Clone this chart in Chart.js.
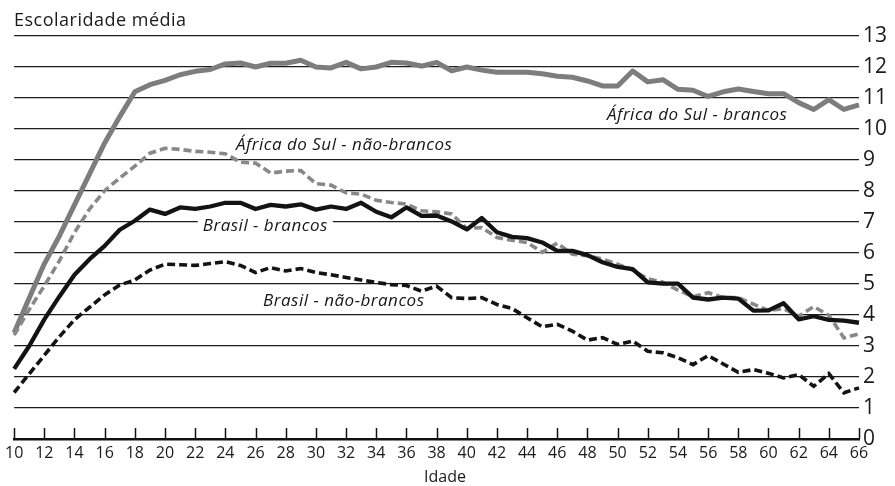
<!DOCTYPE html>
<html><head><meta charset="utf-8">
<script src="https://cdn.jsdelivr.net/npm/chart.js@4/dist/chart.umd.min.js"></script>
<style>html,body{margin:0;padding:0;background:#fff}#wrap{width:895px;height:486px;position:relative}</style>
</head><body><div id="wrap"><canvas id="c"></canvas></div>
<script>
const ages = [10,11,12,13,14,15,16,17,18,19,20,21,22,23,24,25,26,27,28,29,30,31,32,33,34,35,36,37,38,39,40,41,42,43,44,45,46,47,48,49,50,51,52,53,54,55,56,57,58,59,60,61,62,63,64,65,66];
const africaBrancos = [3.43,4.55,5.65,6.55,7.55,8.55,9.55,10.4,11.2,11.43,11.57,11.75,11.86,11.92,12.1,12.13,12.0,12.12,12.12,12.22,12.0,11.97,12.15,11.94,12.0,12.15,12.13,12.03,12.15,11.88,12.0,11.9,11.83,11.83,11.83,11.78,11.7,11.67,11.55,11.39,11.39,11.87,11.52,11.59,11.28,11.25,11.05,11.2,11.29,11.21,11.14,11.14,10.85,10.63,10.95,10.63,10.78];
const africaNaoBrancos = [3.35,4.18,4.94,5.75,6.66,7.42,8.01,8.42,8.8,9.22,9.38,9.34,9.28,9.25,9.2,8.93,8.9,8.58,8.64,8.66,8.24,8.19,7.94,7.9,7.7,7.63,7.58,7.36,7.33,7.26,6.79,6.82,6.5,6.41,6.34,6.02,6.32,5.96,5.91,5.8,5.64,5.45,5.17,5.06,4.8,4.59,4.72,4.56,4.56,4.35,4.15,4.2,3.96,4.27,3.99,3.26,3.39];
const brasilBrancos = [2.26,3.0,3.86,4.6,5.3,5.8,6.23,6.75,7.04,7.4,7.26,7.47,7.42,7.5,7.62,7.62,7.42,7.55,7.5,7.57,7.4,7.5,7.42,7.62,7.33,7.15,7.47,7.2,7.21,7.02,6.76,7.13,6.67,6.52,6.48,6.34,6.07,6.07,5.93,5.7,5.55,5.48,5.05,5.01,5.01,4.56,4.5,4.56,4.53,4.14,4.15,4.38,3.86,3.96,3.84,3.82,3.75];
const brasilNaoBrancos = [1.5,2.1,2.7,3.3,3.85,4.25,4.65,4.97,5.13,5.45,5.64,5.62,5.6,5.66,5.72,5.6,5.37,5.53,5.42,5.5,5.37,5.3,5.21,5.13,5.05,4.98,4.95,4.77,4.93,4.56,4.53,4.56,4.34,4.21,3.91,3.62,3.7,3.48,3.19,3.27,3.05,3.16,2.83,2.78,2.62,2.4,2.69,2.42,2.15,2.24,2.12,1.97,2.08,1.7,2.11,1.49,1.65];
const xTicks = [10,12,14,16,18,20,22,24,26,28,30,32,34,36,38,40,42,44,46,48,50,52,54,56,58,60,62,64,66];
const yTicks = [0,1,2,3,4,5,6,7,8,9,10,11,12,13];
const seriesNames = ['Brasil - brancos','Brasil - não-brancos','África do Sul - não-brancos','África do Sul - brancos'];
const yTitle = 'Escolaridade média';
const xTitle = 'Idade';

const pts = v => ages.map((a,i)=>({x:a,y:v[i]}));
const FONT = '"Open Sans", "DejaVu Sans", sans-serif';

const labelPlugin = {
  id:'labels',
  beforeDatasetsDraw(chart){
    const {ctx, scales:{x,y}} = chart;
    ctx.save();
    ctx.font = 'italic 17px ' + FONT;
    ctx.letterSpacing = '0.5px';
    ctx.textBaseline = 'middle';
    const items = [
      {t:seriesNames[3], a:49.3, v:10.46, bg:false},
      {t:seriesNames[2], a:24.7, v:9.49, bg:false},
      {t:seriesNames[0], a:22.5, v:6.87, bg:true},
      {t:seriesNames[1], a:26.5, v:4.46, bg:false}
    ];
    items.forEach(it=>{
      const px = x.getPixelForValue(it.a), py = y.getPixelForValue(it.v);
      const w = ctx.measureText(it.t).width;
      if(it.bg){ ctx.fillStyle='#fff'; ctx.fillRect(px-5, py-9, w+10, 18); }
      ctx.fillStyle='#161616';
      ctx.fillText(it.t, px, py);
    });
    ctx.restore();
  },
  afterDraw(chart){
    const {ctx, scales:{x}, chartArea} = chart;
    ctx.save();
    ctx.strokeStyle = '#111';
    ctx.lineWidth = 1.5;
    xTicks.forEach(v=>{
      const px = Math.round(x.getPixelForValue(v))+0.5;
      ctx.beginPath(); ctx.moveTo(px, chartArea.bottom); ctx.lineTo(px, chartArea.bottom-11); ctx.stroke();
    });
    ctx.fillStyle = '#1a1a1a';
    ctx.font = '18px ' + FONT;
    ctx.letterSpacing = '0.5px';
    ctx.textBaseline = 'middle';
    ctx.textAlign = 'left';
    ctx.fillText(yTitle, 14, 21);
    ctx.font = '16px ' + FONT;
    ctx.letterSpacing = '0px';
    ctx.textAlign = 'center';
    ctx.fillText(xTitle, 445, 477);
    ctx.restore();
  }
};

new Chart(document.getElementById('c'), {
  type:'line',
  data:{datasets:[
    {label:seriesNames[0], data:pts(brasilBrancos), borderColor:'#131313', borderWidth:4.3, pointRadius:0, tension:0, borderJoinStyle:'round', clip:6},
    {label:seriesNames[1], data:pts(brasilNaoBrancos), borderColor:'#131313', borderWidth:3.6, borderDash:[8,4], pointRadius:0, tension:0, clip:6},
    {label:seriesNames[2], data:pts(africaNaoBrancos), borderColor:'#888888', borderWidth:3.6, borderDash:[8,4], pointRadius:0, tension:0, clip:6},
    {label:seriesNames[3], data:pts(africaBrancos), borderColor:'#7d7d7d', borderWidth:5, pointRadius:0, tension:0, borderJoinStyle:'round', clip:6}
  ]},
  options:{
    responsive:true, maintainAspectRatio:false, animation:false,
    layout:{padding:{left:14, top:36, right:0, bottom:0}},
    plugins:{legend:{display:false}, tooltip:{enabled:false}, title:{display:false}},
    scales:{
      x:{type:'linear', position:'bottom', min:10, max:66,
        afterBuildTicks:s=>{ s.ticks = xTicks.map(v=>({value:v})); },
        afterFit:s=>{ s.height = 47; },
        grid:{display:false, drawTicks:false},
        border:{display:true, color:'#111', width:2.5},
        ticks:{autoSkip:false, maxRotation:0, padding:5, color:'#1a1a1a', font:{family:FONT, size:16}}
      },
      y:{type:'linear', position:'right', min:0, max:13,
        afterBuildTicks:s=>{ s.ticks = yTicks.map(v=>({value:v})); },
        afterFit:s=>{ s.width = 36; },
        grid:{color:'#1c1c1c', lineWidth:1.3, drawTicks:false},
        border:{display:false},
        ticks:{padding:4, color:'#1a1a1a', font:{family:FONT, size:21}}
      }
    }
  },
  plugins:[labelPlugin]
});
</script></body></html>
